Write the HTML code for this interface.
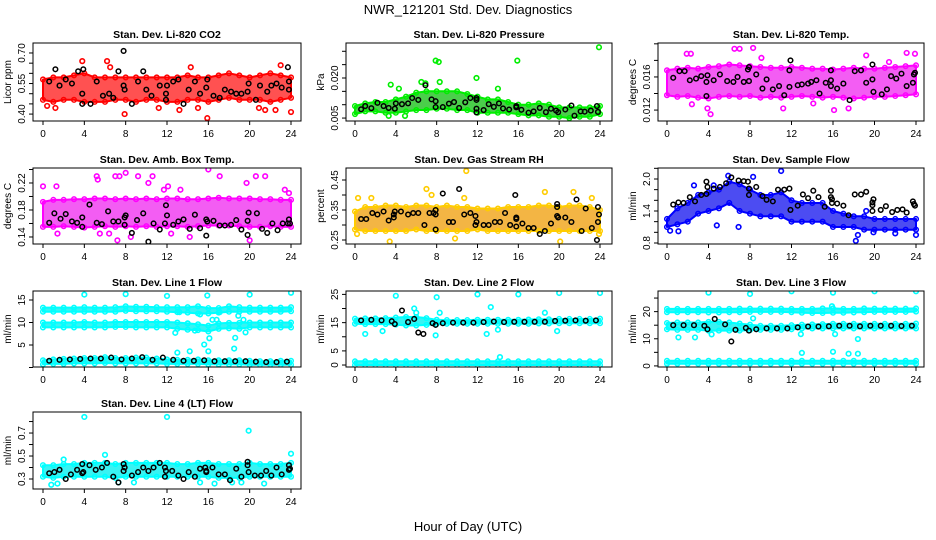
<!DOCTYPE html>
<html><head><meta charset="utf-8"><style>
html,body{margin:0;padding:0;background:#fff;}
svg{display:block;font-family:"Liberation Sans",Arial,sans-serif;}
</style></head><body>
<svg id="chart" width="936" height="540" viewBox="0 0 936 540" xmlns="http://www.w3.org/2000/svg">
<text x="468" y="14" text-anchor="middle" font-size="13">NWR_121201  Std. Dev. Diagnostics</text>
<text x="468" y="531" text-anchor="middle" font-size="13">Hour of Day (UTC)</text>
</svg>
<script>
// ---- shared axis data ----
const hourTicks=[0,4,8,12,16,20,24];
const bandHours=[0,1,2,3,4,5,6,7,8,9,10,11,12,13,14,15,16,17,18,19,20,21,22,23,24];

// ---- P1 CO2 ----
const co2Lo=[0.47,0.46,0.47,0.47,0.46,0.46,0.46,0.47,0.47,0.46,0.47,0.47,0.46,0.46,0.47,0.47,0.46,0.47,0.48,0.47,0.47,0.47,0.46,0.47,0.48];
const co2Hi=[0.57,0.58,0.58,0.59,0.60,0.58,0.58,0.58,0.58,0.58,0.58,0.58,0.58,0.58,0.59,0.58,0.58,0.59,0.60,0.59,0.58,0.59,0.60,0.59,0.58];
const co2OutX=[0.4,1.2,3.8,6.2,6.5,7.9,11.2,13.2,15.0,15.9,20.9,21.5,22.5,23.0,24.0,14.3];
const co2OutY=[0.44,0.43,0.66,0.66,0.63,0.40,0.43,0.42,0.43,0.38,0.43,0.42,0.42,0.64,0.41,0.63];
const co2BlkX=[0.6,1.2,1.6,2.2,2.8,3.4,3.8,3.8,3.9,4.6,5.2,5.8,6.4,6.8,7.3,7.8,7.8,7.9,8.6,9.2,9.7,10.0,10.5,11.3,11.9,11.9,12.0,12.6,13.1,13.6,14.1,14.7,15.2,15.9,15.8,16.5,17.1,17.6,18.2,18.7,19.2,19.8,19.9,20.6,21.0,21.7,22.1,22.6,23.1,23.7,23.8,23.8];
const co2BlkY=[0.56,0.62,0.54,0.57,0.55,0.61,0.50,0.45,0.62,0.45,0.56,0.49,0.50,0.48,0.61,0.71,0.54,0.52,0.45,0.56,0.61,0.52,0.49,0.54,0.50,0.47,0.54,0.56,0.57,0.45,0.52,0.56,0.50,0.57,0.53,0.49,0.48,0.52,0.51,0.50,0.50,0.51,0.55,0.47,0.54,0.51,0.54,0.55,0.53,0.63,0.56,0.52];
const co2Ticks=[0.40,0.45,0.50,0.55,0.60,0.65,0.70];
const co2Labels=["0.40","","","0.55","","","0.70"];

// ---- P2 Pressure ----
const presLo=[0.0065,0.0075,0.0075,0.007,0.007,0.0075,0.008,0.008,0.0085,0.0085,0.008,0.008,0.007,0.007,0.007,0.007,0.0065,0.006,0.006,0.0055,0.0055,0.005,0.0055,0.0055,0.0065];
const presHi=[0.0095,0.0105,0.011,0.011,0.012,0.013,0.0145,0.015,0.015,0.015,0.015,0.014,0.013,0.012,0.012,0.011,0.010,0.010,0.0105,0.010,0.009,0.009,0.009,0.009,0.0095];
const presOutX=[3.5,4.3,6.5,6.9,7.9,8.2,8.3,11.9,15.9,23.9,3.3,4.9,14.0];
const presOutY=[0.0175,0.016,0.0185,0.018,0.0265,0.026,0.0185,0.020,0.0265,0.0315,0.0058,0.0058,0.016];
const presBlkX=[0.6,1.0,1.6,2.2,2.8,3.3,3.9,4.0,4.6,5.2,5.6,6.2,6.9,7.5,7.9,7.9,8.6,9.2,9.7,10.2,10.8,11.3,11.9,11.9,11.9,11.9,12.6,13.1,13.6,14.1,14.5,15.1,15.8,15.8,16.3,17.0,17.5,18.1,18.7,19.2,19.7,19.9,20.6,21.2,21.5,22.1,22.5,23.1,23.7,23.8];
const presBlkY=[0.0083,0.0095,0.0087,0.0107,0.0095,0.0088,0.0085,0.0105,0.0102,0.0105,0.0125,0.0118,0.0173,0.0120,0.0113,0.0091,0.0091,0.0104,0.0110,0.0088,0.0109,0.0125,0.0125,0.0118,0.0085,0.0071,0.0080,0.0102,0.0092,0.0105,0.0086,0.0082,0.0095,0.0090,0.0081,0.0070,0.0075,0.0088,0.0072,0.0085,0.0078,0.0072,0.0082,0.0097,0.0059,0.0075,0.0074,0.0078,0.0095,0.0073];
const presTicks=[0.005,0.010,0.015,0.020,0.025,0.030];
const presLabels=["0.005","","","0.020","",""];

// ---- P3 Li-820 Temp ----
const ltLo=[0.0138,0.0136,0.0137,0.0135,0.0134,0.0136,0.0137,0.0136,0.0137,0.0135,0.0136,0.0135,0.0136,0.0137,0.0136,0.0135,0.0136,0.0135,0.0134,0.0135,0.0136,0.0136,0.0137,0.0138,0.0139];
const ltHi=[0.0168,0.0170,0.0171,0.0170,0.0172,0.0173,0.0175,0.0174,0.0173,0.0172,0.0171,0.0171,0.0172,0.0171,0.0170,0.0170,0.0169,0.0170,0.0171,0.0170,0.0170,0.0171,0.0172,0.0173,0.0174];
const ltOutX=[1.9,2.3,2.4,3.9,4.2,6.5,7.0,8.3,9.1,11.2,14.1,16.1,17.5,19.2,23.1,23.9,21.4];
const ltOutY=[0.0188,0.0188,0.0127,0.0122,0.0115,0.0194,0.0194,0.0195,0.0183,0.0122,0.0128,0.0120,0.0122,0.0186,0.0189,0.0188,0.0178];
const ltBlkX=[0.6,1.2,1.7,2.2,2.8,3.3,3.8,3.8,3.9,4.5,5.1,5.8,6.4,6.8,7.4,7.8,7.9,7.9,8.6,9.2,9.6,10.2,10.8,11.3,11.8,11.8,11.9,12.6,13.0,13.6,13.9,14.4,14.7,15.3,15.8,15.8,15.8,16.4,17.0,17.6,18.1,18.7,19.2,19.8,19.8,19.9,20.7,21.2,21.6,22.1,22.6,23.1,23.7,23.8,23.9];
const ltBlkY=[0.0159,0.0167,0.0167,0.0156,0.0158,0.0161,0.0137,0.0154,0.0162,0.0156,0.0163,0.0155,0.0154,0.0160,0.0154,0.0169,0.0172,0.0155,0.0163,0.0146,0.0157,0.0145,0.0149,0.0138,0.0148,0.0168,0.0180,0.0150,0.0151,0.0152,0.0154,0.0156,0.0140,0.0153,0.0149,0.0156,0.0168,0.0146,0.0152,0.0132,0.0167,0.0168,0.0153,0.0175,0.0157,0.0142,0.0139,0.0145,0.0161,0.0158,0.0164,0.0149,0.0153,0.0163,0.0165];
const ltTicks=[0.012,0.014,0.016,0.018,0.020];
const ltLabels=["0.012","","0.016","",""];

// ---- P4 Amb Box Temp ----
const abLo=[0.155,0.155,0.156,0.155,0.154,0.155,0.156,0.155,0.156,0.155,0.156,0.155,0.156,0.156,0.155,0.156,0.157,0.157,0.157,0.156,0.155,0.155,0.156,0.155,0.155];
const abHi=[0.192,0.195,0.195,0.196,0.196,0.197,0.197,0.196,0.197,0.196,0.197,0.196,0.197,0.197,0.196,0.196,0.197,0.198,0.197,0.197,0.197,0.196,0.196,0.195,0.195];
const abOutX=[0,1.3,1.4,5.2,5.3,7.0,7.4,8.0,9.2,10.2,10.6,11.7,12.1,12.4,13.3,14.2,16.0,17.1,19.7,20.6,21.5,7.2,8.5,20.0,23.4,23.8,5.5,6.4];
const abOutY=[0.215,0.215,0.145,0.23,0.225,0.23,0.23,0.235,0.23,0.22,0.23,0.21,0.215,0.145,0.21,0.14,0.24,0.23,0.22,0.23,0.23,0.135,0.14,0.135,0.21,0.205,0.145,0.145];
const abBlkX=[0.6,1.1,1.7,2.2,2.8,3.3,3.8,3.8,4.5,5.2,5.7,6.3,6.8,7.3,7.9,7.9,8.0,8.6,9.1,9.7,10.2,10.7,11.3,11.8,11.9,12.0,12.6,13.1,13.6,14.2,14.7,15.2,15.8,15.8,15.9,16.5,17.1,17.6,18.2,18.7,19.2,19.8,19.8,19.9,20.7,21.2,21.7,22.2,22.7,23.2,23.7,23.8,23.9];
const abBlkY=[0.161,0.175,0.167,0.174,0.163,0.161,0.155,0.169,0.188,0.161,0.159,0.178,0.163,0.163,0.158,0.169,0.172,0.146,0.165,0.175,0.133,0.160,0.151,0.160,0.187,0.172,0.158,0.163,0.166,0.152,0.173,0.153,0.142,0.166,0.163,0.164,0.157,0.157,0.158,0.165,0.151,0.143,0.164,0.176,0.175,0.152,0.146,0.160,0.150,0.160,0.160,0.166,0.160];
const abTicks=[0.14,0.16,0.18,0.20,0.22,0.24];
const abLabels=["0.14","","0.18","","0.22",""];

// ---- P5 Gas Stream RH ----
const rhLo=[0.285,0.28,0.28,0.28,0.28,0.28,0.285,0.28,0.28,0.28,0.28,0.28,0.285,0.28,0.28,0.28,0.28,0.28,0.28,0.28,0.28,0.28,0.28,0.28,0.28];
const rhHi=[0.345,0.36,0.36,0.365,0.365,0.36,0.365,0.365,0.36,0.365,0.36,0.36,0.355,0.355,0.355,0.36,0.36,0.36,0.365,0.365,0.36,0.365,0.365,0.36,0.35];
const rhOutX=[0.2,0.3,1.6,3.4,7.0,7.5,9.8,10.9,10.7,18.6,20.1,21.4,23.2,23.9];
const rhOutY=[0.27,0.39,0.39,0.245,0.42,0.40,0.255,0.48,0.39,0.41,0.245,0.41,0.39,0.27];
const rhBlkX=[0.6,1.1,1.7,2.2,2.8,3.3,3.8,3.8,3.9,4.5,5.2,5.7,6.2,6.8,7.3,7.7,7.9,7.9,7.9,8.6,9.2,9.6,10.2,10.7,11.3,11.8,11.8,11.9,12.6,13.1,13.7,14.2,14.7,15.2,15.7,15.8,15.8,15.8,16.4,17.0,17.5,18.1,18.6,19.2,19.8,19.8,19.8,19.9,20.6,21.2,21.7,22.2,22.6,23.2,23.7,23.8,23.9,23.8];
const rhBlkY=[0.32,0.32,0.34,0.335,0.345,0.315,0.325,0.335,0.345,0.345,0.335,0.34,0.34,0.30,0.34,0.34,0.335,0.35,0.285,0.405,0.31,0.31,0.42,0.335,0.34,0.33,0.30,0.31,0.30,0.30,0.31,0.31,0.34,0.30,0.40,0.325,0.32,0.295,0.305,0.29,0.29,0.27,0.28,0.305,0.36,0.37,0.33,0.325,0.325,0.31,0.385,0.28,0.355,0.29,0.25,0.31,0.335,0.36];
const rhTicks=[0.25,0.30,0.35,0.40,0.45];
const rhLabels=["0.25","","0.35","","0.45"];

// ---- P6 Sample Flow ----
const sfLo=[1.1,1.15,1.2,1.35,1.4,1.45,1.55,1.4,1.35,1.3,1.3,1.3,1.2,1.2,1.2,1.2,1.1,1.1,1.1,1.05,1.05,1.05,1.05,1.05,1.05];
const sfHi=[1.25,1.45,1.55,1.7,1.75,1.8,1.95,1.9,1.8,1.7,1.7,1.75,1.6,1.55,1.55,1.55,1.4,1.35,1.3,1.3,1.25,1.25,1.25,1.25,1.25];
const sfOutX=[0.3,1.1,2.6,4.5,4.8,5.9,6.9,8.3,11.0,18.2,18.4,19.2,24.0,22.0,19.9];
const sfOutY=[1.03,1.02,1.88,1.88,1.13,2.06,1.1,2.04,2.15,0.84,0.95,1.4,0.95,0.98,1.0];
const sfBlkX=[0.6,1.1,1.6,2.2,2.7,3.3,3.8,3.9,3.8,4.5,5.1,5.7,6.2,6.9,7.4,7.8,7.9,7.9,8.6,9.2,9.6,10.2,10.7,11.3,11.8,11.9,12.6,13.1,13.6,14.1,14.6,15.2,15.8,15.8,15.9,15.9,16.4,17.0,17.5,18.1,18.7,19.2,19.8,19.8,19.8,19.9,20.6,21.1,21.7,22.2,22.7,23.1,23.7,23.8,23.9];
const sfBlkY=[1.52,1.56,1.55,1.66,1.58,1.7,1.95,1.85,1.72,1.82,1.85,1.92,2.03,1.97,1.96,1.95,1.82,1.7,1.85,1.68,1.61,1.58,1.80,1.80,1.82,1.42,1.5,1.71,1.64,1.78,1.66,1.48,1.78,1.66,1.55,1.62,1.54,1.50,1.32,1.71,1.71,1.76,1.40,1.51,1.56,1.62,1.42,1.49,1.38,1.42,1.43,1.37,1.58,1.53,1.50];
const sfTicks=[0.8,1.0,1.2,1.4,1.6,1.8,2.0,2.2];
const sfLabels=["0.8","","","1.4","","","2.0",""];

// ---- P7 Line 1 Flow ----
const l1aLo=[12.4,12.4,12.4,12.4,12.4,12.4,12.4,12.4,12.6,12.5,12.5,12.5,12.4,12.3,12.2,12.0,12.0,12.2,12.4,12.4,12.4,12.4,12.4,12.4,12.5];
const l1aHi=[13.3,13.3,13.3,13.3,13.4,13.3,13.3,13.4,13.6,13.5,13.5,13.4,13.4,13.4,13.4,13.6,13.2,13.2,13.6,13.4,13.3,13.3,13.3,13.3,13.4];
const l1bLo=[8.9,8.9,8.9,8.9,8.9,8.9,8.9,9.0,9.0,8.9,8.9,8.9,8.9,8.6,8.4,8.3,8.0,8.6,8.7,8.6,8.9,8.9,8.9,8.9,8.9];
const l1bHi=[10.0,10.0,10.0,10.0,10.1,10.0,10.0,10.1,10.1,10.1,10.1,10.1,10.1,10.0,9.8,9.6,9.3,9.8,9.9,9.9,10.0,10.0,10.0,10.0,10.0];
const l1cLo=[0.7,0.8,0.8,0.9,0.9,0.9,1.0,0.9,0.9,0.9,0.9,0.9,0.8,0.8,0.8,0.8,0.7,0.7,0.7,0.7,0.6,0.6,0.6,0.6,0.6];
const l1cHi=[1.6,1.8,1.9,2.0,2.1,2.1,2.3,2.1,2.1,2.2,2.2,2.0,1.8,1.7,1.7,1.8,1.6,1.6,1.6,1.6,1.5,1.4,1.4,1.5,1.5];
const l1OutX=[4,8,12,15.9,20,24,13,14.2,15.6,16.0,16.1,18.5,18.6,12.8,14.7,15.2,16.4,16.8,18.9,19.4,19.6,14.0,13.2,17.1];
const l1OutY=[16.2,16.3,15.9,16,16.2,16.6,3.3,3.6,5.1,3.6,6.5,4.2,6.6,7.7,8.2,11.8,10.6,10.6,11.5,10.6,7.8,9.8,12.3,12.3];
const l1BlkX=[0.6,1.6,2.6,3.6,4.6,5.6,6.6,7.6,8.6,9.6,10.6,11.6,12.6,13.6,14.6,15.6,16.6,17.6,18.6,19.6,20.6,21.6,22.6,23.6];
const l1BlkY=[1.5,1.7,1.8,1.9,2.0,2.0,2.2,1.8,2.0,2.3,1.7,2.2,1.7,1.5,1.5,1.6,1.4,1.4,1.4,1.4,1.3,1.2,1.2,1.3];
const l1Ticks=[0,5,10,15];
const l1Labels=["","5","10","15"];

// ---- P8 Line 2 Flow ----
const l2aLo=[14.6,14.5,14.5,14.5,14.3,14.0,14.0,14.2,14.5,14.6,14.6,14.6,14.6,14.6,14.6,14.6,14.6,14.6,14.7,14.7,14.8,14.8,14.8,14.8,14.8];
const l2aHi=[16.4,16.5,16.5,16.6,16.8,17.0,17.0,16.6,16.0,15.9,15.9,15.9,16.0,16.0,16.0,16.0,16.0,16.1,16.2,16.2,16.3,16.3,16.3,16.3,16.4];
const l2bLo=[0,0,0,0,0,0,0,0,0,0,0,0,0,0,0,0,0,0,0,0,0,0,0,0,0];
const l2bHi=[1.3,1.3,1.3,1.3,1.3,1.3,1.3,1.3,1.3,1.3,1.3,1.3,1.3,1.3,1.3,1.3,1.3,1.3,1.3,1.3,1.3,1.3,1.3,1.3,1.3];
const l2OutX=[1.0,4,5.8,8,12,16,20,24,8.3,13.3,18.6,2.7,7.9,12.9,14.2,14.0,19.8,6.0];
const l2OutY=[11,24.5,20,24,25,25,25.5,25.5,18.5,20.5,18.5,12,10.5,11,2.8,12.5,12,18.5];
const l2BlkX=[0.6,1.6,2.6,3.6,3.9,4.6,5.2,5.8,6.2,6.7,7.6,7.9,8.6,9.6,10.6,11.6,12.6,13.6,14.6,15.6,16.6,17.6,18.6,19.6,20.6,21.6,22.6,23.6];
const l2BlkY=[15.8,16.0,15.8,15.5,14.5,19.3,15.2,16.3,11.5,11.0,14.8,14.2,14.8,15.0,15.0,15.0,15.2,15.4,15.2,15.3,15.3,15.3,15.3,15.6,15.7,15.8,15.7,15.8];
const l2Ticks=[0,5,10,15,20,25];
const l2Labels=["0","5","","15","","25"];

// ---- P9 Line 3 Flow ----
const l3aLo=[19.8,19.8,19.8,19.8,19.7,19.7,19.8,19.8,19.9,19.9,19.9,19.9,19.8,19.6,19.5,19.5,19.6,19.6,19.7,19.8,19.9,19.9,19.9,19.9,20.0];
const l3aHi=[21.0,21.0,21.0,21.0,21.0,21.0,21.0,21.1,21.1,21.1,21.1,21.1,21.0,21.0,21.0,21.2,21.2,21.0,21.0,21.2,21.1,21.1,21.1,21.1,21.2];
const l3bLo=[13.5,13.3,13.3,13.3,13.0,13.0,13.0,13.0,13.2,13.3,13.3,13.3,13.5,13.8,13.8,13.8,13.8,13.8,13.8,13.8,13.8,13.8,13.8,13.8,13.8];
const l3bHi=[15.8,16.0,16.0,16.0,16.2,16.2,16.0,15.6,15.2,14.8,14.8,14.8,15.0,15.2,15.3,15.4,15.5,15.5,15.5,15.5,15.5,15.5,15.5,15.5,15.6];
const l3cLo=[0.8,0.8,0.8,0.8,0.8,0.8,0.8,0.8,0.8,0.8,0.8,0.8,0.8,0.8,0.8,0.8,0.8,0.8,0.8,0.8,0.8,0.8,0.8,0.8,0.8];
const l3cHi=[1.9,1.9,1.9,1.9,1.9,1.9,1.9,1.9,1.9,1.9,1.9,1.9,1.9,1.9,1.9,1.9,1.9,1.9,1.9,1.9,1.9,1.9,1.9,1.9,1.9];
const l3OutX=[4,8,12,16,20,24,13,16,17.5,18.4,18.4,2.7,1.1,12.9,16.2,4.3,15.9,8.3];
const l3OutY=[27,26.5,27.5,27,27.5,27.5,4.8,5.2,4.5,4.5,9.9,10.5,10.5,11.7,11.7,11.6,22,17.5];
const l3BlkX=[0.6,1.6,2.6,3.6,3.9,4.6,5.6,6.2,6.6,7.6,7.9,8.6,9.6,10.6,11.6,12.6,13.6,14.6,15.6,16.6,17.6,18.6,19.6,20.6,21.6,22.6,23.6];
const l3BlkY=[15.0,15.0,15.0,14.8,13.5,17.3,15.3,9.0,13.3,14.0,13.0,13.5,13.8,13.8,13.8,14.2,14.5,14.5,14.6,14.8,14.8,14.6,14.8,14.8,14.8,14.7,14.8];
const l3Ticks=[0,5,10,15,20,25];
const l3Labels=["0","","10","","20",""];

// ---- P10 Line 4 (LT) Flow ----
const l4Lo=[0.32,0.31,0.32,0.32,0.32,0.32,0.32,0.31,0.32,0.32,0.32,0.32,0.32,0.32,0.32,0.32,0.32,0.31,0.31,0.31,0.32,0.32,0.32,0.32,0.32];
const l4Hi=[0.42,0.42,0.43,0.43,0.44,0.44,0.44,0.43,0.44,0.44,0.44,0.44,0.44,0.43,0.43,0.44,0.44,0.43,0.43,0.43,0.44,0.43,0.43,0.43,0.44];
const l4OutX=[4,12,19.9,24,0.8,1.4,6,2.0,7.3,8.8,15.2,16.6,19.2,21.4,18.3];
const l4OutY=[0.84,0.84,0.72,0.52,0.25,0.26,0.51,0.47,0.27,0.27,0.27,0.26,0.27,0.26,0.27];
const l4BlkX=[0.6,1.1,1.6,2.2,2.7,3.3,3.8,3.9,3.8,4.5,5.1,5.7,6.2,6.8,7.3,7.8,7.9,7.8,8.6,9.2,9.7,10.2,10.7,11.3,11.8,11.8,11.9,12.5,13.1,13.6,14.1,14.7,15.2,15.7,15.8,15.8,16.4,17.0,17.6,18.1,18.7,19.2,19.8,19.8,19.9,20.5,21.1,21.6,22.1,22.6,23.1,23.8,23.8,23.9];
const l4BlkY=[0.35,0.36,0.38,0.30,0.34,0.38,0.43,0.36,0.35,0.42,0.38,0.40,0.44,0.32,0.27,0.43,0.40,0.37,0.33,0.36,0.40,0.37,0.40,0.44,0.40,0.32,0.37,0.37,0.33,0.30,0.36,0.32,0.39,0.40,0.37,0.36,0.40,0.34,0.34,0.29,0.39,0.32,0.45,0.42,0.36,0.33,0.33,0.37,0.33,0.40,0.34,0.42,0.38,0.39];
const l4Ticks=[0.3,0.4,0.5,0.6,0.7,0.8];
const l4Labels=["0.3","","0.5","","0.7",""];

// ---- layout (geometry only) ----
const colBoxL=[33,346,658], colBoxR=[301,612,924], colX0=[43,355,667], colX24=[291,600,916];
const rowTop=[43,168,291,412], rowBot=[121,244,367,489];

const panels=[
 {name:"co2",title:"Stan. Dev. Li-820 CO2",ylab:"Licor ppm",r:0,c:0,ylim:[0.366,0.749],col:"#ff0000",fill:"#ff2020",bands:[[co2Lo,co2Hi]],ox:co2OutX,oy:co2OutY,bx:co2BlkX,by:co2BlkY,ticks:co2Ticks,labels:co2Labels},
 {name:"pressure",title:"Stan. Dev. Li-820 Pressure",ylab:"kPa",r:0,c:1,ylim:[0.0039,0.0331],col:"#00ee00",fill:"#18c018",bands:[[presLo,presHi]],ox:presOutX,oy:presOutY,bx:presBlkX,by:presBlkY,ticks:presTicks,labels:presLabels},
 {name:"li820-temp",title:"Stan. Dev. Li-820 Temp.",ylab:"degrees C",r:0,c:2,ylim:[0.01068,0.0201],col:"#ff00ff",fill:"#f030f0",bands:[[ltLo,ltHi]],ox:ltOutX,oy:ltOutY,bx:ltBlkX,by:ltBlkY,ticks:ltTicks,labels:ltLabels},
 {name:"amb-box-temp",title:"Stan. Dev. Amb. Box Temp.",ylab:"degrees C",r:1,c:0,ylim:[0.1296,0.2422],col:"#ff00ff",fill:"#f030f0",bands:[[abLo,abHi]],ox:abOutX,oy:abOutY,bx:abBlkX,by:abBlkY,ticks:abTicks,labels:abLabels},
 {name:"gas-stream-rh",title:"Stan. Dev. Gas Stream RH",ylab:"percent",r:1,c:1,ylim:[0.2367,0.49],col:"#ffcc00",fill:"#f0a010",bands:[[rhLo,rhHi]],ox:rhOutX,oy:rhOutY,bx:rhBlkX,by:rhBlkY,ticks:rhTicks,labels:rhLabels},
 {name:"sample-flow",title:"Stan. Dev. Sample Flow",ylab:"ml/min",r:1,c:2,ylim:[0.781,2.206],col:"#0000ff",fill:"#1a1aee",bands:[[sfLo,sfHi]],ox:sfOutX,oy:sfOutY,bx:sfBlkX,by:sfBlkY,ticks:sfTicks,labels:sfLabels},
 {name:"line1-flow",title:"Stan. Dev. Line 1 Flow",ylab:"ml/min",r:2,c:0,ylim:[0.11,17.0],col:"#00ffff",fill:"#00f0f0",bands:[[l1aLo,l1aHi],[l1bLo,l1bHi],[l1cLo,l1cHi]],ox:l1OutX,oy:l1OutY,bx:l1BlkX,by:l1BlkY,ticks:l1Ticks,labels:l1Labels},
 {name:"line2-flow",title:"Stan. Dev. Line 2 Flow",ylab:"ml/min",r:2,c:1,ylim:[-0.7,26.2],col:"#00ffff",fill:"#00f0f0",bands:[[l2aLo,l2aHi],[l2bLo,l2bHi]],ox:l2OutX,oy:l2OutY,bx:l2BlkX,by:l2BlkY,ticks:l2Ticks,labels:l2Labels},
 {name:"line3-flow",title:"Stan. Dev. Line 3 Flow",ylab:"ml/min",r:2,c:2,ylim:[-0.4,27.6],col:"#00ffff",fill:"#00f0f0",bands:[[l3aLo,l3aHi],[l3bLo,l3bHi],[l3cLo,l3cHi]],ox:l3OutX,oy:l3OutY,bx:l3BlkX,by:l3BlkY,ticks:l3Ticks,labels:l3Labels},
 {name:"line4-flow",title:"Stan. Dev. Line 4 (LT) Flow",ylab:"ml/min",r:3,c:0,ylim:[0.213,0.883],col:"#00ffff",fill:"#00f0f0",bands:[[l4Lo,l4Hi]],ox:l4OutX,oy:l4OutY,bx:l4BlkX,by:l4BlkY,ticks:l4Ticks,labels:l4Labels}
];

const NS="http://www.w3.org/2000/svg";
const svg=document.getElementById('chart');
function mk(tag,attrs,parent){const e=document.createElementNS(NS,tag);for(const k in attrs)e.setAttribute(k,attrs[k]);parent.appendChild(e);return e;}

panels.forEach(p=>{
  const L=colBoxL[p.c],R=colBoxR[p.c],T=rowTop[p.r],B=rowBot[p.r];
  const x0=colX0[p.c],x24=colX24[p.c];
  const sx=h=>x0+h*(x24-x0)/24;
  const sy=v=>B-(v-p.ylim[0])*(B-T)/(p.ylim[1]-p.ylim[0]);
  const g=mk('g',{},svg);
  
  
  const clipId='clip-'+p.name;
  const cp=mk('clipPath',{id:clipId},g);
  mk('rect',{x:L,y:T,width:R-L,height:B-T},cp);
  const plot=mk('g',{'clip-path':'url(#'+clipId+')'},g);
  
  
  p.bands.forEach((b,bi)=>{
    const lo=b[0],hi=b[1];
    let d='';
    bandHours.forEach((h,i)=>{d+=(i?'L':'M')+sx(h).toFixed(1)+','+sy(hi[i]).toFixed(1);});
    for(let i=bandHours.length-1;i>=0;i--)d+='L'+sx(bandHours[i]).toFixed(1)+','+sy(lo[i]).toFixed(1);
    const band=mk('path',{d:d+'Z',fill:p.fill,'fill-opacity':0.78,stroke:p.col,'stroke-width':2,'stroke-linejoin':'round'},plot);
    
    
    bandHours.forEach((h,i)=>{
      [hi[i],lo[i]].forEach(v=>{
        const c=mk('circle',{cx:sx(h),cy:sy(v),r:2.3,fill:'none',stroke:p.col,'stroke-width':1.5},plot);
        
        
      });
    });
  });
  p.ox.forEach((h,i)=>{
    const c=mk('circle',{cx:sx(h),cy:sy(p.oy[i]),r:2.3,fill:'none',stroke:p.col,'stroke-width':1.6},plot);
    
    
  });
  p.bx.forEach((h,i)=>{
    const c=mk('circle',{cx:sx(h),cy:sy(p.by[i]),r:2.3,fill:'none',stroke:'#000','stroke-width':1.5},plot);
    
    
  });
  const box=mk('rect',{x:L,y:T,width:R-L,height:B-T,fill:'none',stroke:'#000','stroke-width':1},g);
  
  
  const t=mk('text',{x:(L+R)/2,y:T-5,'text-anchor':'middle','font-size':10.5,'font-weight':'bold'},g);
  t.textContent=p.title;
  
  
  const xa=mk('g',{},g);
  
  
  mk('line',{x1:sx(hourTicks[0]),x2:sx(hourTicks[hourTicks.length-1]),y1:B,y2:B,stroke:'#000'},xa);
  hourTicks.forEach(h=>{
    mk('line',{x1:sx(h),x2:sx(h),y1:B,y2:B+4,stroke:'#000'},xa);
    const tl=mk('text',{x:sx(h),y:B+16,'text-anchor':'middle','font-size':10},xa);
    tl.textContent=h;
    
    
  });
  const ya=mk('g',{},g);
  
  
  let ymin=1e9,ymax=-1e9;
  p.ticks.forEach((v,i)=>{
    const y=sy(v);
    if(y<T-2||y>B+2)return;
    ymin=Math.min(ymin,y);ymax=Math.max(ymax,y);
    mk('line',{x1:L-4,x2:L,y1:y,y2:y,stroke:'#000'},ya);
    if(p.labels[i]){
      const tl=mk('text',{x:L-8,y:y,'text-anchor':'middle','font-size':10,transform:'rotate(-90 '+(L-8)+' '+y+')'},ya);
      tl.textContent=p.labels[i];
      
      
    }
  });
  mk('line',{x1:L,x2:L,y1:ymin,y2:ymax,stroke:'#000'},ya);
  const yt=mk('text',{x:L-22,y:(T+B)/2,'text-anchor':'middle','font-size':10,transform:'rotate(-90 '+(L-22)+' '+((T+B)/2)+')'},ya);
  yt.textContent=p.ylab;
  
  
});
</script>
</body></html>
